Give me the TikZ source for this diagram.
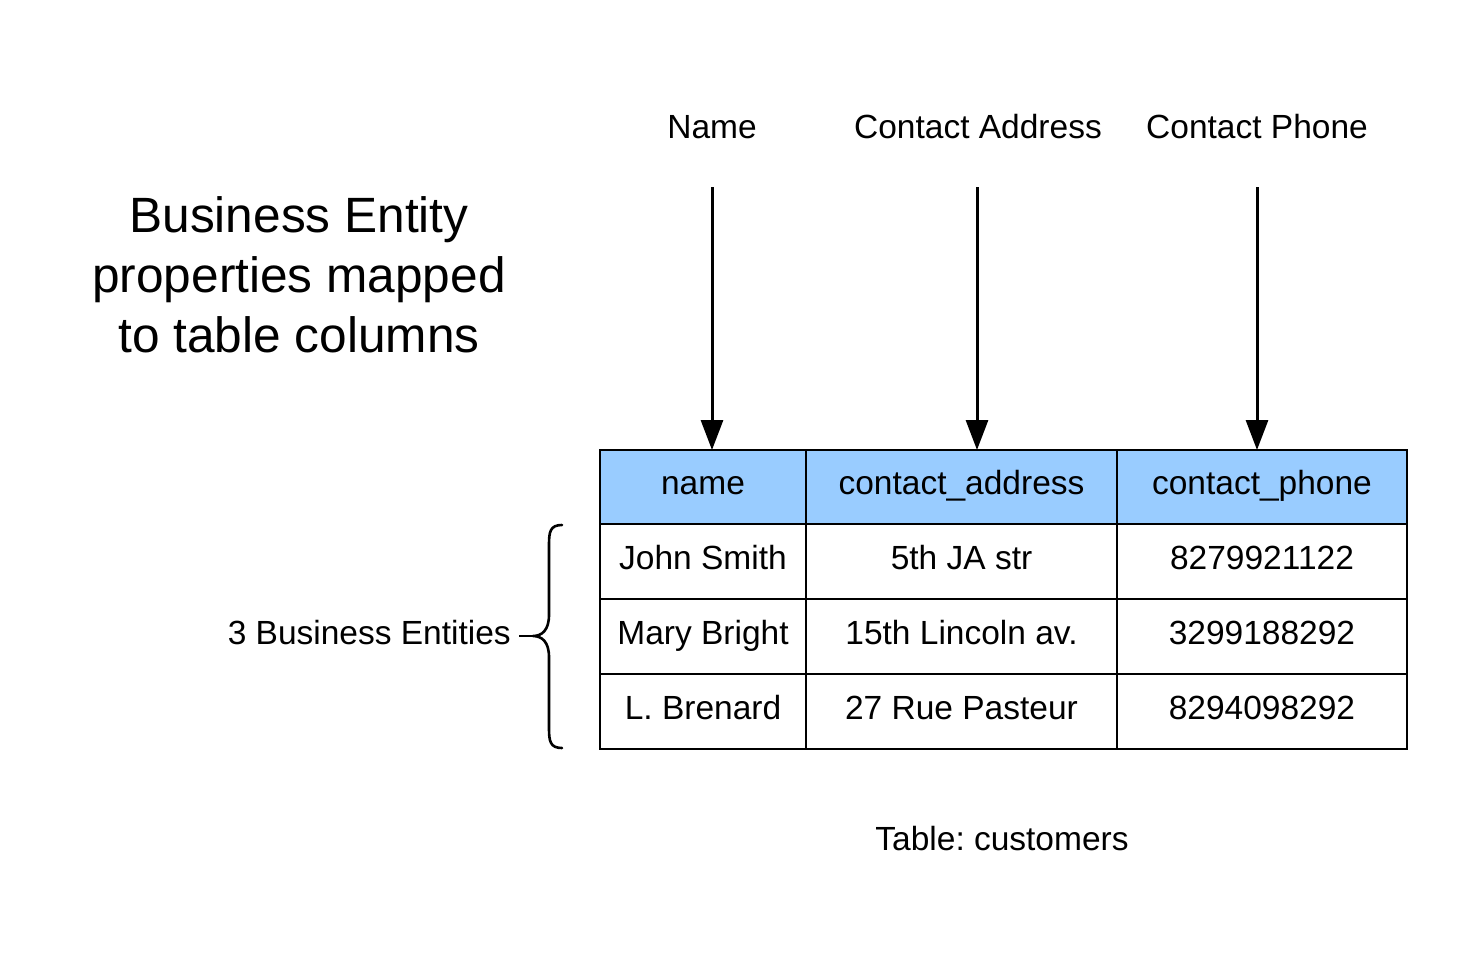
\documentclass[tikz,border=0pt]{standalone}
\usepackage{fontspec}
\setmainfont{Liberation Sans}
\usetikzlibrary{arrows.meta}
\definecolor{hdrblue}{HTML}{99CCFF}
\frenchspacing
\tikzset{
  px/.style={x=1pt,y=-1pt},
  lbl/.style={font=\fontsize{33.5}{40}\selectfont, anchor=base, inner sep=0pt},
  title/.style={font=\fontsize{49.6}{60}\selectfont, anchor=base, inner sep=0pt},
  maparrow/.style={line width=3pt, -{Triangle[width=22pt,length=30pt]}},
  grid/.style={line width=1.5pt},
  bracestyle/.style={line width=2.6pt, line cap=round, line join=round}
}
\begin{document}
\begin{tikzpicture}[px]
\useasboundingbox (0,0) rectangle (1481,975);
% title
\node[title] (t1) at (299,232) {Business Entity};
\node[title] (t2) at (299,292) {properties mapped};
\node[title] (t3) at (299,352) {to table columns};
% property labels
\node[lbl] (pName) at (712,138) {Name};
\node[lbl] (pAddr) at (978,138) {Contact Address};
\node[lbl] (pPhone) at (1257,138) {Contact Phone};
% header fill
\fill[hdrblue] (600,450) rectangle (1407,524);
% grid
\draw[grid] (600,450) rectangle (1407,749);
\foreach \y in {524,599,674} \draw[grid] (600,\y) -- (1407,\y);
\foreach \x in {806,1117} \draw[grid] (\x,450) -- (\x,749);
% arrows
\coordinate (aS1) at (712,187); \coordinate (aE1) at (712,450);
\coordinate (aS2) at (977,187); \coordinate (aE2) at (977,450);
\coordinate (aS3) at (1257,187); \coordinate (aE3) at (1257,450);
\draw[maparrow] (aS1) -- (aE1);
\draw[maparrow] (aS2) -- (aE2);
\draw[maparrow] (aS3) -- (aE3);
% header texts
\node[lbl] (h1) at (703,494) {name};
\node[lbl] (h2) at (961.5,494) {contact\_address};
\node[lbl] (h3) at (1262,494) {contact\_phone};
% rows
\node[lbl] (r11) at (703,569) {John Smith};
\node[lbl] (r12) at (961.5,569) {5th JA str};
\node[lbl] (r13) at (1262,569) {8279921122};
\node[lbl] (r21) at (703,644) {Mary Bright};
\node[lbl] (r22) at (961.5,644) {15th Lincoln av.};
\node[lbl] (r23) at (1262,644) {3299188292};
\node[lbl] (r31) at (703,719) {L. Brenard};
\node[lbl] (r32) at (961.5,719) {27 Rue Pasteur};
\node[lbl] (r33) at (1262,719) {8294098292};
% caption
\node[lbl] (cap) at (1002,850) {Table: customers};
% brace
\node[lbl, anchor=base east] (ents) at (511,644) {3 Business Entities};
\coordinate (bTip) at (519,636);
\draw[bracestyle] (562,525) .. controls (550,525) and (549,532) .. (549,545)
  -- (549,615) .. controls (549,630) and (542,636) .. (533,636)
  .. controls (542,636) and (549,642) .. (549,657)
  -- (549,728) .. controls (549,741) and (550,748) .. (562,748);
\draw[line width=1.8pt] (bTip) -- (533,636);
\end{tikzpicture}
\end{document}
